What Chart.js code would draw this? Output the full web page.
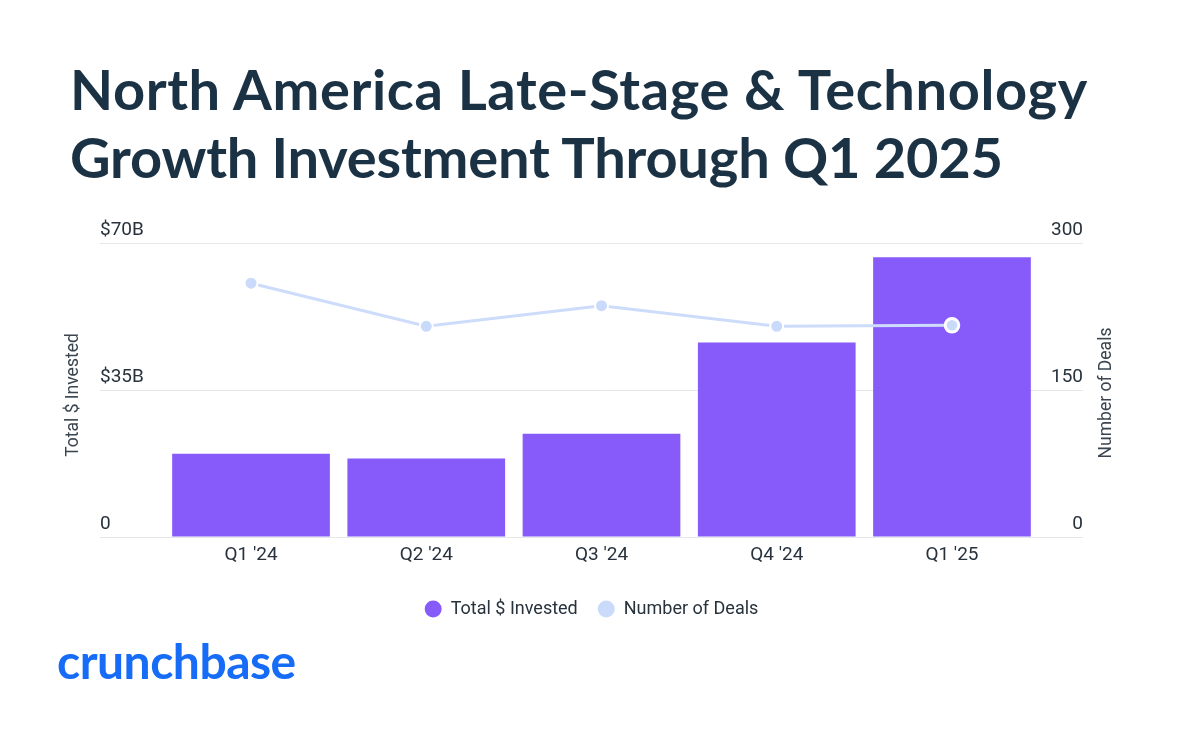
<!DOCTYPE html>
<html>
<head>
<meta charset="utf-8">
<script src="https://cdn.jsdelivr.net/npm/chart.js@4.4.1/dist/chart.umd.min.js"></script>
<style>
  html, body { margin: 0; padding: 0; background: #ffffff; }
  body { width: 1200px; height: 745px; position: relative; overflow: hidden; }
  #title {
    position: absolute; left: 70px; top: 55px; margin: 0;
    font-family: Lato, sans-serif; font-weight: 700; font-size: 56px; line-height: 67.5px;
    color: #1b3245; z-index: 2; white-space: nowrap;
  }
  #title .l1 { letter-spacing: 0.6px; }
  #title .l2 { letter-spacing: -0.2px; }
  #logo {
    position: absolute; left: 57px; top: 637px;
    font-family: Lato, sans-serif; font-weight: 700; font-size: 48px; line-height: 48px;
    color: #166cf6; z-index: 2; letter-spacing: -0.5px;
  }
  #wrap { position: absolute; left: 0; top: 0; width: 1200px; height: 745px; z-index: 1; }
</style>
</head>
<body>
<div id="title"><span class="l1">North America Late-Stage &amp; Technology</span><br><span class="l2">Growth Investment Through Q1 2025</span></div>
<div id="logo">crunchbase</div>
<div id="wrap"><canvas id="c"></canvas></div>
<script>
const categories = ["Q1 '24", "Q2 '24", "Q3 '24", "Q4 '24", "Q1 '25"];
const investedB = [19.8, 18.7, 24.6, 46.3, 66.6];
const dealCounts = [259, 215, 236, 215, 216];
const leftTicks = [0, 35, 70];
const rightTicks = [0, 150, 300];
const seriesNames = ["Total $ Invested", "Number of Deals"];
const axisTitles = ["Total $ Invested", "Number of Deals"];

const FONT = "Roboto, sans-serif";
const GRID = "#e5e7ea";
const TEXT = "#27323d";

const axisTitlePlugin = {
  id: 'axisTitlePlugin',
  afterDraw(chart) {
    const ctx = chart.ctx;
    const ca = chart.chartArea;
    const cy = (ca.top + ca.bottom) / 2 + 5;
    const yl = chart.scales.y, yr = chart.scales.y1;
    ctx.save();
    ctx.fillStyle = '#3a4550';
    ctx.font = '17.5px ' + FONT;
    ctx.textAlign = 'center';
    ctx.textBaseline = 'middle';
    ctx.translate(yl.left - 26, cy);
    ctx.rotate(-Math.PI / 2);
    ctx.fillText(axisTitles[0], 0, 0);
    ctx.restore();
    ctx.save();
    ctx.fillStyle = '#3a4550';
    ctx.font = '17.5px ' + FONT;
    ctx.textAlign = 'center';
    ctx.textBaseline = 'middle';
    ctx.translate(yr.right + 24, cy - 2);
    ctx.rotate(-Math.PI / 2);
    ctx.fillText(axisTitles[1], 0, 0);
    ctx.restore();
  }
};

new Chart(document.getElementById('c'), {
  data: {
    labels: categories,
    datasets: [
      {
        type: 'bar',
        label: seriesNames[0],
        data: investedB,
        yAxisID: 'y',
        backgroundColor: '#875bf9',
        borderWidth: 0,
        barPercentage: 0.9,
        categoryPercentage: 1.0,
        order: 2
      },
      {
        type: 'line',
        label: seriesNames[1],
        data: dealCounts,
        yAxisID: 'y1',
        borderColor: '#cddcfa',
        backgroundColor: '#c9dafb',
        borderWidth: 3,
        pointBackgroundColor: '#c9dafb',
        pointBorderColor: '#ffffff',
        pointBorderWidth: [2, 2, 2, 2, 3],
        pointRadius: [6.5, 6.5, 6.5, 6.5, 6.8],
        tension: 0,
        order: 1
      }
    ]
  },
  options: {
    responsive: true,
    maintainAspectRatio: false,
    animation: false,
    layout: { padding: { top: 243, left: 100, right: 117, bottom: 117 } },
    plugins: {
      tooltip: { enabled: false },
      title: { display: false },
      legend: {
        display: true,
        position: 'bottom',
        labels: {
          usePointStyle: true,
          pointStyle: 'circle',
          boxHeight: 12,
          pointStyleWidth: 17,
          padding: 20,
          color: TEXT,
          font: { family: FONT, size: 18 },
          sort: (a, b) => a.datasetIndex - b.datasetIndex,
          generateLabels(chart) {
            const items = Chart.defaults.plugins.legend.labels.generateLabels(chart);
            items.forEach(it => { it.lineWidth = 0; it.pointStyle = 'circle'; it.strokeStyle = 'rgba(0,0,0,0)'; });
            return items;
          }
        }
      }
    },
    scales: {
      x: {
        type: 'category',
        offset: true,
        grid: { display: false, drawTicks: false },
        border: { display: false },
        ticks: { color: TEXT, font: { family: FONT, size: 19 }, padding: 7, maxRotation: 0 },
        afterFit(s) { s.height = 43; }
      },
      y: {
        type: 'linear',
        position: 'left',
        min: 0, max: 70,
        afterBuildTicks(s) { s.ticks = leftTicks.map(v => ({ value: v })); },
        grid: { color: GRID, lineWidth: 1, drawTicks: true, tickLength: 63.4, tickColor: GRID },
        border: { display: false },
        ticks: {
          crossAlign: 'far',
          labelOffset: -13,
          color: TEXT,
          font: { family: FONT, size: 19 },
          callback: (v) => v === 0 ? '0' : '$' + v + 'B'
        },
        afterFit(s) { s.width = 63.4; }
      },
      y1: {
        type: 'linear',
        position: 'right',
        min: 0, max: 300,
        afterBuildTicks(s) { s.ticks = rightTicks.map(v => ({ value: v })); },
        grid: { drawOnChartArea: false, color: GRID, drawTicks: true, tickLength: 43.4, tickColor: GRID },
        border: { display: false },
        ticks: {
          crossAlign: 'far',
          labelOffset: -13,
          color: TEXT,
          font: { family: FONT, size: 19 },
          callback: (v) => String(v)
        },
        afterFit(s) { s.width = 43.4; }
      }
    }
  },
  plugins: [axisTitlePlugin]
});
</script>
</body>
</html>
